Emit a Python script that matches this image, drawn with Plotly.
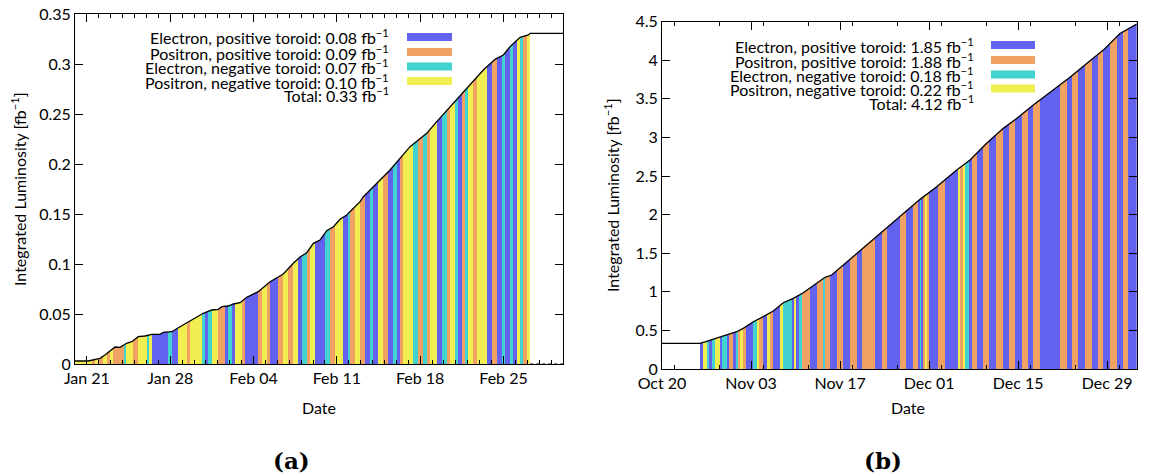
import pandas as pd
import plotly.graph_objects as go

W, H = 1152, 476

COLORS = {"B": "#6262EE", "O": "#F0A264", "C": "#42D2D0", "Y": "#F0EE50"}
MODE_ORDER = ["B", "O", "C", "Y"]
LEGEND_NAMES = ["Electron, positive toroid", "Positron, positive toroid",
                "Electron, negative toroid", "Positron, negative toroid"]

# ---------------- panel (a) data ----------------
a_base = "2024-01-20"
a_range_days = 41.0
a_curve_days = [0.00, 1.12, 2.10, 2.52, 3.36, 3.78, 4.34, 4.76, 5.32, 5.88, 6.45, 7.14,
                7.42, 8.13, 8.68, 9.39, 10.23, 10.78, 11.49, 12.04, 12.33, 12.88, 13.30,
                13.87, 14.43, 15.40, 16.39, 17.50, 18.34, 18.91, 19.47, 20.03, 20.59,
                21.15, 21.71, 22.27, 22.83, 23.95, 24.23, 26.47, 28.15, 29.55, 30.39,
                31.51, 32.35, 33.34, 34.31, 35.29, 35.99, 36.55, 37.39, 38.09, 38.24, 41.0]
a_curve_lumi = [0.0030, 0.0030, 0.0057, 0.0090, 0.0170, 0.0167, 0.0207, 0.0223, 0.0273,
                0.0280, 0.0297, 0.0297, 0.0317, 0.0323, 0.0363, 0.0413, 0.0473, 0.0507,
                0.0540, 0.0547, 0.0573, 0.0580, 0.0600, 0.0613, 0.0667, 0.0723, 0.0823,
                0.0900, 0.1007, 0.1070, 0.1113, 0.1207, 0.1240, 0.1333, 0.1373, 0.1447,
                0.1490, 0.1623, 0.1673, 0.1940, 0.2173, 0.2307, 0.2423, 0.2573, 0.2690,
                0.2813, 0.2940, 0.3047, 0.3090, 0.3173, 0.3267, 0.3290, 0.3307, 0.3307]
a_run_days = [0.00, 1.40, 1.68, 1.96, 2.38, 2.66, 2.94, 3.22, 4.15, 4.29, 4.90, 5.32,
              6.08, 6.22, 6.44, 7.84, 8.12, 8.68, 9.38, 9.66, 10.64, 10.92, 11.20, 11.48,
              12.04, 12.61, 12.88, 13.17, 13.45, 14.01, 14.29, 15.41, 15.69, 16.11, 16.39,
              17.08, 17.50, 17.93, 18.35, 18.77, 19.05, 19.47, 19.75, 20.17, 21.01, 21.43,
              21.85, 22.55, 22.97, 23.11, 23.53, 23.95, 24.37, 24.79, 25.07, 25.49, 25.91,
              26.33, 26.75, 27.03, 27.31, 27.59, 28.43, 28.85, 29.27, 29.55, 29.83, 30.39,
              30.81, 31.23, 31.51, 31.93, 32.21, 32.49, 32.77, 33.05, 33.47, 33.75, 34.60,
              35.02, 35.44, 35.86, 36.13, 36.55, 36.83, 37.12, 37.39, 37.67, 37.96]
a_run_end = 38.24
a_run_modes = ["Y", "O", "Y", "O", "Y", "O", "Y", "O", "C", "Y", "O", "Y",
               "C", "Y", "B", "C", "B", "Y", "O", "Y", "C", "B", "C", "Y",
               "O", "B", "C", "B", "Y", "O", "B", "O", "Y", "O", "B",
               "O", "Y", "O", "Y", "B", "C", "O", "Y", "B", "C", "O",
               "Y", "B", "C", "O", "Y", "O", "B", "C", "B", "Y", "O",
               "B", "C", "B", "O", "Y", "C", "O", "C", "O", "Y", "B",
               "C", "O", "Y", "C", "B", "O", "C", "Y", "O", "Y", "B",
               "O", "B", "C", "B", "C", "B", "Y", "C", "O", "Y"]
a_legend_values = ["0.08", "0.09", "0.07", "0.10"]
a_total = "0.33"

# ---------------- panel (b) data ----------------
b_base = "2023-10-20"
b_range_days = 74.64
b_curve_days = [0.00, 5.97, 6.76, 8.07, 9.64, 11.75, 12.78, 14.36, 15.93, 17.50, 19.07,
                20.64, 22.22, 24.32, 25.63, 26.68, 28.51, 30.61, 33.22, 35.85, 36.90,
                40.57, 43.19, 46.34, 48.43, 51.05, 53.66, 55.77, 58.38, 61.01, 64.15,
                66.78, 69.39, 72.01, 73.32, 74.64]
b_curve_lumi = [0.333, 0.333, 0.350, 0.385, 0.418, 0.483, 0.527, 0.613, 0.678, 0.751,
                0.859, 0.916, 0.988, 1.110, 1.188, 1.218, 1.347, 1.490, 1.680, 1.865,
                1.930, 2.198, 2.360, 2.578, 2.707, 2.924, 3.118, 3.247, 3.420, 3.579,
                3.779, 3.960, 4.132, 4.348, 4.413, 4.469]
b_run_days = [5.97, 6.50, 7.02, 7.44, 7.81, 8.33, 9.12, 9.38, 10.17, 10.59, 11.22, 11.64,
              12.00, 12.26, 12.79, 13.21, 14.36, 14.88, 15.30, 15.93, 16.46, 16.98, 17.50,
              18.55, 19.07, 20.39, 20.75, 21.07, 21.59, 21.97, 23.27, 24.32, 25.36, 25.63,
              26.42, 27.47, 28.51, 29.56, 30.61, 31.40, 33.49, 34.54, 35.33, 37.42, 38.36,
              39.42, 40.30, 40.57, 40.72, 41.09, 41.35, 41.72, 42.03, 43.44, 44.50, 46.59,
              46.86, 47.28, 47.64, 48.32, 48.69, 49.48, 50.52, 51.46, 52.52, 53.57, 54.61,
              55.50, 56.56, 57.59, 58.38, 59.43, 62.58, 63.63, 64.42, 65.46, 66.51, 67.56,
              68.60, 69.39, 70.44, 71.49, 72.53, 73.32]
b_run_end = 74.64
b_run_modes = ["B", "Y", "C", "B", "C", "Y", "B", "C", "B", "O", "B", "C",
               "O", "Y", "O", "B", "C", "Y", "O", "B", "Y", "O", "B",
               "Y", "C", "B", "Y", "B", "C", "O", "B", "O", "C", "O",
               "B", "O", "B", "O", "B", "O", "B", "O", "B", "O", "B",
               "O", "B", "C", "B", "O", "Y", "O", "B", "O", "B", "Y",
               "O", "Y", "C", "B", "O", "B", "O", "B", "O", "B", "O",
               "B", "O", "B", "O", "B", "O", "B", "O", "B", "O", "B",
               "O", "B", "O", "B", "O", "B"]
b_legend_values = ["1.85", "1.88", "0.18", "0.22"]
b_total = "4.12"

FONT = "Lato"
FS = 16
DAY_MS = 86400000


def to_dates(base, days):
    return [pd.Timestamp(base) + pd.to_timedelta(d, unit="D") for d in days]


def px_x(px):
    return px / W


def px_y(py):
    return 1 - py / H


fig = go.Figure()


def add_panel(xa, ya, base, curve_days, curve_lumi, run_days, run_end, run_modes, ytop):
    ends = run_days[1:] + [run_end]
    for m in MODE_ORDER:
        mids, widths = [], []
        for s, e, mm in zip(run_days, ends, run_modes):
            if mm == m:
                mids.append(pd.Timestamp(base) + pd.to_timedelta((s + e) / 2, unit="D"))
                widths.append((e - s) * DAY_MS)
        fig.add_trace(go.Bar(x=mids, y=[ytop] * len(mids), width=widths, base=0,
                             marker=dict(color=COLORS[m], line=dict(width=0)),
                             xaxis=xa, yaxis=ya, showlegend=False, hoverinfo="skip"))
    cx = to_dates(base, curve_days)
    # white mask above the cumulative curve
    fig.add_trace(go.Scatter(x=cx + [cx[-1], cx[0]], y=curve_lumi + [ytop, ytop],
                             fill="toself", fillcolor="white", mode="lines",
                             line=dict(width=0, color="white"), xaxis=xa, yaxis=ya,
                             showlegend=False, hoverinfo="skip"))
    fig.add_trace(go.Scatter(x=cx, y=curve_lumi, mode="lines",
                             line=dict(color="black", width=1.3), xaxis=xa, yaxis=ya,
                             showlegend=False, hoverinfo="skip"))


add_panel("x", "y", a_base, a_curve_days, a_curve_lumi, a_run_days, a_run_end,
          a_run_modes, 0.35)
add_panel("x2", "y2", b_base, b_curve_days, b_curve_lumi, b_run_days, b_run_end,
          b_run_modes, 4.5)

# dotted zero line after the end of data in panel (a)
fig.add_trace(go.Scatter(x=to_dates(a_base, [a_run_end, a_range_days]), y=[0, 0],
                         mode="lines", line=dict(color="black", width=1.2, dash="dot"),
                         xaxis="x", yaxis="y", showlegend=False, hoverinfo="skip"))

axis_common = dict(showline=True, linecolor="black", linewidth=1, mirror="ticks",
                   ticks="inside", tickcolor="black", showgrid=False, zeroline=False,
                   automargin=False,
                   tickfont=dict(family=FONT, size=FS, color="black"))

fig.update_layout(
    width=W, height=H, margin=dict(l=0, r=0, t=0, b=0, autoexpand=False),
    paper_bgcolor="white", plot_bgcolor="white", barmode="overlay", bargap=0,
    showlegend=False,
    xaxis=dict(domain=[px_x(75), px_x(563)], anchor="y", type="date",
               range=[pd.Timestamp(a_base), pd.Timestamp(a_base) + pd.to_timedelta(a_range_days, unit="D")],
               tick0="2024-01-21", dtick=7 * DAY_MS, tickformat="%b %d", ticklen=8,
               minor=dict(dtick=DAY_MS, ticks="inside", ticklen=4, tickcolor="black"),
               **axis_common),
    yaxis=dict(domain=[px_y(364), px_y(14)], anchor="x", range=[0, 0.35], dtick=0.05,
               ticklen=8, **axis_common),
    xaxis2=dict(domain=[px_x(662), px_x(1136.7)], anchor="y2", type="date",
                range=[pd.Timestamp(b_base), pd.Timestamp(b_base) + pd.to_timedelta(b_range_days, unit="D")],
                tick0=b_base, dtick=14 * DAY_MS, tickformat="%b %d", ticklen=8,
                minor=dict(dtick=7 * DAY_MS, ticks="inside", ticklen=4, tickcolor="black"),
                **axis_common),
    yaxis2=dict(domain=[px_y(369), px_y(21.7)], anchor="x2", range=[0, 4.5], dtick=0.5,
                ticklen=8, **axis_common),
)

annotations = []
shapes = []


def add_legend(values, total, text_right, sw_x0, sw_x1, row_y):
    labels = [f"{n}: {v} fb<sup>−1</sup>" for n, v in zip(LEGEND_NAMES, values)]
    labels.append(f"Total: {total} fb<sup>−1</sup>")
    for i, t in enumerate(labels):
        annotations.append(dict(text=t, xref="paper", yref="paper", x=px_x(text_right),
                                y=px_y(row_y[i]), xanchor="right", yanchor="middle",
                                showarrow=False,
                                font=dict(family=FONT, size=FS, color="black")))
    for i, m in enumerate(MODE_ORDER):
        shapes.append(dict(type="rect", xref="paper", yref="paper", x0=px_x(sw_x0),
                           x1=px_x(sw_x1), y0=px_y(row_y[i] + 4), y1=px_y(row_y[i] - 4),
                           fillcolor=COLORS[m], line=dict(width=0)))


add_legend(a_legend_values, a_total, 391, 407, 452, [37, 52, 66.5, 81, 95])
add_legend(b_legend_values, b_total, 976, 991, 1035, [45, 60, 74.5, 88.5, 102])

for cx in (319, 907.5):
    annotations.append(dict(text="Date", xref="paper", yref="paper", x=px_x(cx),
                            y=px_y(407), xanchor="center", yanchor="middle",
                            showarrow=False, font=dict(family=FONT, size=FS, color="black")))
for cx, cy in ((19, 189), (611, 195)):
    annotations.append(dict(text="Integrated Luminosity [fb<sup>−1</sup>]", xref="paper",
                            yref="paper", x=px_x(cx), y=px_y(cy), xanchor="center",
                            yanchor="middle", textangle=-90, showarrow=False,
                            font=dict(family=FONT, size=FS, color="black")))
for lab, cx in (("(a)", 291), ("(b)", 883)):
    annotations.append(dict(text=f"<b>{lab}</b>", xref="paper", yref="paper", x=px_x(cx),
                            y=px_y(460), xanchor="center", yanchor="middle",
                            showarrow=False,
                            font=dict(family="DejaVu Serif", size=23, color="black")))

fig.update_layout(annotations=annotations, shapes=shapes)
fig.write_html("out.html")
